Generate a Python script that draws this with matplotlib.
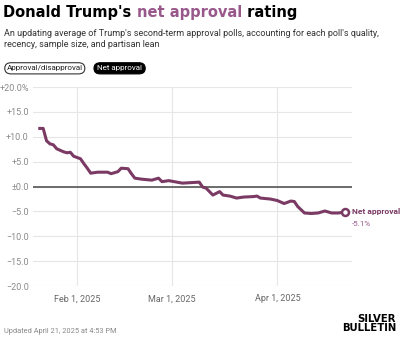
import matplotlib

matplotlib.use("Agg")
import matplotlib.pyplot as plt
import numpy as np
from matplotlib.patches import FancyBboxPatch

# net approval (approve - disapprove)
dates = [
    "2025-01-21", "2025-01-22", "2025-01-23", "2025-01-24", "2025-01-25", "2025-01-26",
    "2025-01-28", "2025-01-29", "2025-01-30", "2025-01-31", "2025-02-02", "2025-02-03",
    "2025-02-04", "2025-02-05", "2025-02-07", "2025-02-10", "2025-02-11", "2025-02-13",
    "2025-02-14", "2025-02-16", "2025-02-17", "2025-02-18", "2025-02-20", "2025-02-23",
    "2025-02-25", "2025-02-26", "2025-02-28", "2025-03-04", "2025-03-09", "2025-03-10",
    "2025-03-11", "2025-03-13", "2025-03-15", "2025-03-16", "2025-03-18", "2025-03-20",
    "2025-03-22", "2025-03-25", "2025-03-26", "2025-03-27", "2025-03-30", "2025-04-01",
    "2025-04-03", "2025-04-05", "2025-04-06", "2025-04-07", "2025-04-09", "2025-04-11",
    "2025-04-13", "2025-04-15", "2025-04-17", "2025-04-19", "2025-04-21",
]
net = [
    11.7, 11.7, 9.2, 8.6, 8.4, 7.6,
    7.0, 6.8, 6.9, 6.1, 5.6, 4.6,
    3.7, 2.7, 2.9, 2.9, 2.6, 3.0,
    3.7, 3.6, 2.6, 1.7, 1.5, 1.3,
    1.7, 1.0, 1.2, 0.7, 0.9, -0.1,
    -0.3, -1.7, -1.0, -1.7, -1.9, -2.3,
    -2.1, -2.0, -1.9, -2.3, -2.5, -2.8,
    -3.4, -2.9, -3.0, -4.0, -5.3, -5.4,
    -5.3, -4.9, -5.3, -5.3, -5.1,
]
y_ticks = [20, 15, 10, 5, 0, -5, -10, -15, -20]
y_labels = ["+20.0%", "+15.0", "+10.0", "+5.0", "\u00b10.0", "\u22125.0", "\u221210.0", "\u221215.0", "\u221220.0"]
x_ticks = ["2025-02-01", "2025-03-01", "2025-04-01"]
x_labels = ["Feb 1, 2025", "Mar 1, 2025", "Apr 1, 2025"]

LINE = "#7a3a64"
ACCENT = "#99588b"
plt.rcParams["font.family"] = ["Roboto", "DejaVu Sans"]

d = np.array(dates, dtype="datetime64[D]")
fig = plt.figure(figsize=(4.0, 3.39), dpi=100)
ax = fig.add_axes([0.0825, 0.156, 0.7975, 0.587])

ax.plot(d, net, color=LINE, lw=2.2, solid_joinstyle="round", zorder=3)
ax.plot(d[-1:], net[-1:], "o", ms=5, mfc="white", mec=LINE, mew=1.8, zorder=4)
ax.axhline(0, color="#555555", lw=1.2, zorder=2)

ax.set_ylim(-20, 20)
ax.set_xlim(np.datetime64("2025-01-19"), np.datetime64("2025-04-23"))
ax.set_yticks(y_ticks, y_labels)
ax.set_xticks(np.array(x_ticks, dtype="datetime64[D]"), x_labels)
ax.grid(True, color="#e6e6e6", lw=0.8, zorder=0)
ax.tick_params(length=0, labelsize=6.5, labelcolor="#8a8a8a", pad=3)
ax.tick_params(axis="x", pad=6, labelcolor="#666666")
for s in ax.spines.values():
    s.set_visible(False)

ax.annotate("Net approval", (d[-1], net[-1]), xytext=(5, 0.5), textcoords="offset points",
            va="center", ha="left", fontsize=6.0, fontweight="bold", color=LINE, annotation_clip=False)
ax.annotate("-5.1%", (d[-1], net[-1]), xytext=(5, -8.5), textcoords="offset points",
            va="center", ha="left", fontsize=5.8, color=ACCENT, annotation_clip=False)

# header: three pieces so the middle one can be coloured
parts = [("Donald Trump's ", "black"), ("net approval", ACCENT), (" rating", "black")]
x = 0.008
for txt, col in parts:
    t = fig.text(x, 0.963, txt, fontsize=10.5, fontweight="heavy", family="DejaVu Sans",
                 va="center", ha="left", color=col)
    fig.canvas.draw()
    x = t.get_window_extent().x1 / fig.bbox.width

fig.text(0.01, 0.885, "An updating average of Trump's second-term approval polls, accounting for each poll's quality,\n"
         "recency, sample size, and partisan lean", fontsize=6.5, color="#333333",
         va="center", ha="left", linespacing=1.35)

# toggle buttons
fig.add_artist(FancyBboxPatch((0.012, 0.782), 0.2, 0.033, boxstyle="round,pad=0,rounding_size=0.016",
                              transform=fig.transFigure, fc="white", ec="#333333", lw=0.8))
fig.text(0.112, 0.799, "Approval/disapproval", fontsize=5.8, ha="center", va="center", color="#222222")
fig.add_artist(FancyBboxPatch((0.235, 0.782), 0.128, 0.033, boxstyle="round,pad=0,rounding_size=0.016",
                              transform=fig.transFigure, fc="black", ec="black", lw=0.8))
fig.text(0.299, 0.799, "Net approval", fontsize=5.8, ha="center", va="center", color="white")

# footer
fig.text(0.01, 0.022, "Updated April 21, 2025 at 4:53 PM", fontsize=5.3, color="#888888", va="center")
fig.text(0.99, 0.045, "SILVER\nBULLETIN", fontsize=7.3, fontweight="bold", ha="right", va="center",
         linespacing=0.9, family="DejaVu Sans")

fig.savefig("out.png", dpi=100)
